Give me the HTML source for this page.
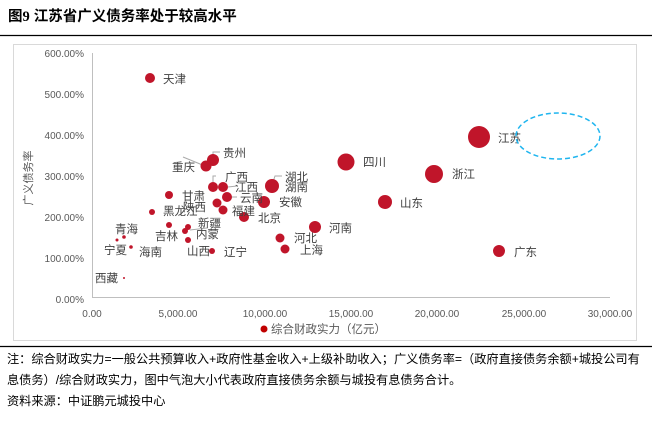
<!DOCTYPE html>
<html><head><meta charset="utf-8"><style>
body{margin:0;background:#fff;width:652px;height:418px;overflow:hidden;font-family:"Liberation Sans","Noto Sans CJK SC",sans-serif;}
</style></head><body>
<svg width="652" height="418" xmlns="http://www.w3.org/2000/svg" font-family="Liberation Sans, Noto Sans CJK SC, sans-serif">
<text x="8" y="21" font-size="14.5" font-weight="bold" fill="#000">图<tspan font-family="Liberation Serif">9</tspan>   江苏省广义债务率处于较高水平</text>
<line x1="0" y1="35.5" x2="652" y2="35.5" stroke="#000" stroke-width="1.2"/>
<rect x="13.5" y="44.5" width="623" height="296" fill="none" stroke="#d9d9d9"/>
<g stroke="#bfbfbf" stroke-width="1">
<line x1="92.5" y1="53" x2="92.5" y2="298"/>
<line x1="92" y1="297.5" x2="610" y2="297.5"/>
</g>
<g font-size="10" fill="#595959" text-anchor="end">
<text x="84" y="57">600.00%</text><text x="84" y="98">500.00%</text><text x="84" y="139">400.00%</text><text x="84" y="180">300.00%</text><text x="84" y="221">200.00%</text><text x="84" y="262">100.00%</text><text x="84" y="303">0.00%</text>
</g>
<g font-size="10" fill="#595959" text-anchor="middle">
<text x="92" y="317">0.00</text><text x="178" y="317">5,000.00</text><text x="265" y="317">10,000.00</text><text x="351" y="317">15,000.00</text><text x="437" y="317">20,000.00</text><text x="524" y="317">25,000.00</text><text x="610" y="317">30,000.00</text>
</g>
<text transform="translate(32,178) rotate(-90)" font-size="11" fill="#595959" text-anchor="middle">广义债务率</text>
<circle cx="264" cy="329" r="3.5" fill="#c00000"/>
<text x="271" y="333" font-size="11.5" fill="#595959">综合财政实力（亿元）</text>
<g stroke="#aaa" stroke-width="1" fill="none">
<polyline points="183,157 205,166"/><polyline points="220,152 213,152 213,160"/>
<polyline points="216,176 213,176 213,186"/><polyline points="237,186 228,187"/>
<polyline points="237,197 230,197"/><polyline points="282,176 275,176 272,185"/>
<polyline points="207,228 190,230"/>
</g>
<g fill="#c0152a">
<circle cx="150" cy="78" r="5"/><circle cx="479" cy="137" r="11"/><circle cx="346" cy="162" r="8.5"/>
<circle cx="434" cy="174" r="9"/><circle cx="385" cy="202" r="7"/><circle cx="499" cy="251" r="6"/>
<circle cx="315" cy="227" r="6"/><circle cx="280" cy="238" r="4.5"/><circle cx="285" cy="249" r="4.5"/>
<circle cx="244" cy="217" r="5"/><circle cx="264" cy="202" r="6"/><circle cx="272" cy="186" r="7"/>
<circle cx="223" cy="210" r="4.5"/><circle cx="227" cy="197" r="5"/><circle cx="213" cy="187" r="5"/>
<circle cx="223" cy="187" r="5"/><circle cx="213" cy="160" r="6"/><circle cx="206" cy="166" r="5.5"/>
<circle cx="169" cy="195" r="4"/><circle cx="217" cy="203" r="4.5"/><circle cx="152" cy="212" r="3"/>
<circle cx="169" cy="225" r="3"/><circle cx="188" cy="227" r="3"/><circle cx="185" cy="231" r="3"/>
<circle cx="188" cy="240" r="3"/><circle cx="212" cy="251" r="3"/><circle cx="124" cy="237" r="1.8"/>
<circle cx="117" cy="240" r="1.5"/><circle cx="131" cy="247" r="1.8"/><circle cx="124" cy="278" r="1"/>
</g>
<g font-size="11.5" fill="#404040">
<text x="163" y="83">天津</text><text x="498" y="142">江苏</text><text x="363" y="166">四川</text>
<text x="452" y="178">浙江</text><text x="400" y="207">山东</text><text x="514" y="256">广东</text>
<text x="329" y="232">河南</text><text x="294" y="242">河北</text><text x="300" y="254">上海</text>
<text x="258" y="222">北京</text><text x="279" y="206">安徽</text><text x="285" y="181">湖北</text>
<text x="285" y="191">湖南</text><text x="232" y="215">福建</text><text x="240" y="202">云南</text>
<text x="235" y="191">江西</text><text x="225" y="181">广西</text><text x="223" y="157">贵州</text>
<text x="172" y="171">重庆</text><text x="182" y="200">甘肃</text><text x="183" y="211">陕西</text>
<text x="163" y="215">黑龙江</text><text x="198" y="227">新疆</text><text x="196" y="238">内蒙</text>
<text x="155" y="240">吉林</text><text x="187" y="255">山西</text><text x="224" y="256">辽宁</text>
<text x="115" y="233">青海</text><text x="104" y="254">宁夏</text><text x="139" y="256">海南</text>
<text x="95" y="282">西藏</text>
</g>
<ellipse cx="558" cy="136" rx="42" ry="23" fill="none" stroke="#1fb5ef" stroke-width="1.5" stroke-dasharray="5,3"/>
<line x1="0" y1="346.5" x2="652" y2="346.5" stroke="#000" stroke-width="1.2"/>
<g font-size="12.2" fill="#000">
<text x="7" y="363">注：综合财政实力=一般公共预算收入+政府性基金收入+上级补助收入；广义债务率=（政府直接债务余额+城投公司有</text>
<text x="7" y="384">息债务）/综合财政实力，图中气泡大小代表政府直接债务余额与城投有息债务合计。</text>
<text x="7" y="405">资料来源：中证鹏元城投中心</text>
</g>
</svg>
</body></html>
